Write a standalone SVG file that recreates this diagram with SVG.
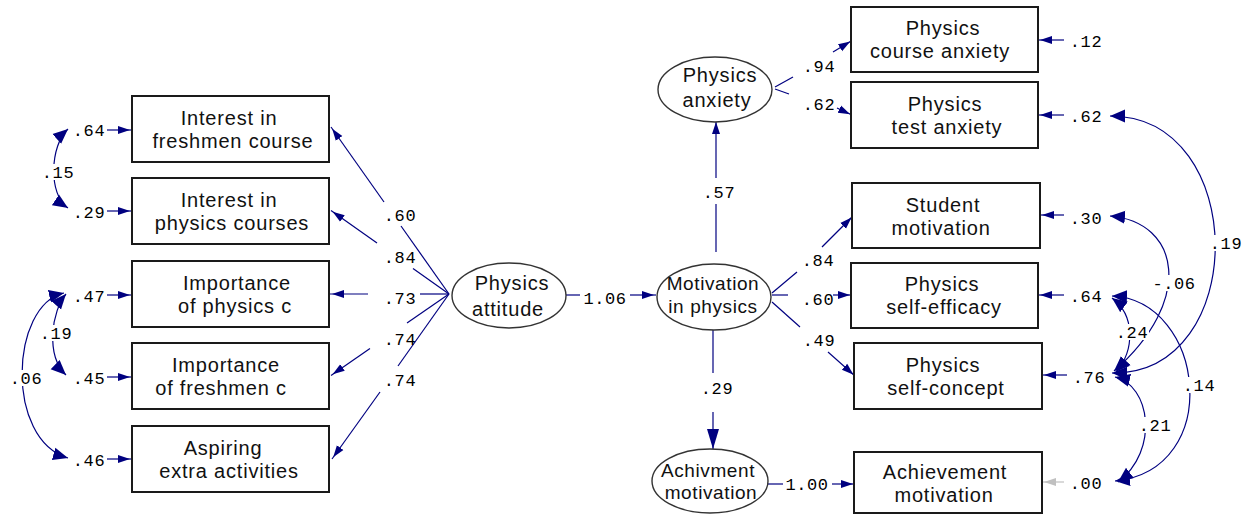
<svg xmlns="http://www.w3.org/2000/svg" width="1258" height="515" viewBox="0 0 1258 515">
<defs>
<style>
.box{fill:#fff;stroke:#1a1a1a;stroke-width:2}
.ell{fill:#fff;stroke:#333;stroke-width:1.4}
.lbl{font-family:"Liberation Sans",Arial,sans-serif;font-size:20px;letter-spacing:0.8px;fill:#111;text-anchor:middle}
.sm{font-size:19px;letter-spacing:0.6px}
.num{font-family:"Liberation Mono","Courier New",monospace;font-size:17px;letter-spacing:0.6px;fill:#000;text-anchor:middle}
.c{fill:none;stroke:#000080;stroke-width:1.2}
.a{marker-end:url(#ah)}
.cv{marker-start:url(#ch);marker-end:url(#ch)}
.bg{fill:#fff}
</style>
<marker id="ah" viewBox="0 0 16 10" refX="14" refY="5" markerWidth="16" markerHeight="10" orient="auto" markerUnits="userSpaceOnUse"><path d="M0,1 L12,5 L0,9 Z" fill="#000080"/></marker>
<marker id="ahg" viewBox="0 0 16 10" refX="14" refY="5" markerWidth="16" markerHeight="10" orient="auto" markerUnits="userSpaceOnUse"><path d="M0,1 L12,5 L0,9 Z" fill="#c0c0c0"/></marker>
<marker id="bh" viewBox="0 0 22 14" refX="20" refY="7" markerWidth="22" markerHeight="14" orient="auto" markerUnits="userSpaceOnUse"><path d="M0,1 L20,7 L0,13 Z" fill="#000080"/></marker>
<marker id="ch" viewBox="0 0 16 14" refX="15" refY="7" markerWidth="16" markerHeight="14" orient="auto-start-reverse" markerUnits="userSpaceOnUse"><path d="M0,0.5 L15,7 L0,13.5 Z" fill="#000080"/></marker>
</defs>
<rect width="1258" height="515" fill="#fff"/>

<g id="connectors">
  <!-- Physics attitude loadings -->
  <line class="c" x1="449" y1="294" x2="401" y2="226"/>
  <line class="c a" x1="384" y1="202" x2="331" y2="127"/>
  <line class="c" x1="449" y1="294" x2="413" y2="268.5"/>
  <line class="c a" x1="377" y1="243" x2="331" y2="210.5"/>
  <line class="c" x1="449" y1="294" x2="420" y2="294"/>
  <line class="c a" x1="368" y1="294" x2="330" y2="294"/>
  <line class="c" x1="449" y1="294" x2="407" y2="323"/>
  <line class="c a" x1="370" y1="348.5" x2="331" y2="375.5"/>
  <line class="c" x1="449" y1="294" x2="398" y2="366"/>
  <line class="c a" x1="380" y1="392" x2="332" y2="459"/>
  <!-- attitude -> motivation -->
  <line class="c" x1="566" y1="295" x2="580" y2="295"/>
  <line class="c a" x1="630" y1="295" x2="656" y2="295"/>
  <!-- motivation -> anxiety -->
  <line class="c" x1="716" y1="252" x2="716" y2="204"/>
  <line class="c a" x1="716" y1="178" x2="716" y2="120"/>
  <!-- motivation -> achivment -->
  <line class="c" x1="713" y1="330" x2="713" y2="373"/>
  <line class="c" x1="713" y1="412" x2="713" y2="449" marker-end="url(#bh)"/>
  <!-- achivment -> achievement box -->
  <line class="c" x1="768" y1="484" x2="783" y2="484"/>
  <line class="c a" x1="832" y1="484" x2="855" y2="484"/>
  <!-- anxiety -> boxes -->
  <line class="c" x1="775" y1="87" x2="793" y2="77"/>
  <line class="c a" x1="833" y1="52" x2="852" y2="40.5"/>
  <line class="c" x1="775" y1="89" x2="789" y2="94"/>
  <line class="c a" x1="837" y1="108" x2="852" y2="115"/>
  <!-- motivation -> boxes -->
  <line class="c" x1="772" y1="293" x2="797" y2="272"/>
  <line class="c a" x1="822" y1="247" x2="853" y2="216"/>
  <line class="c" x1="772" y1="295" x2="788" y2="295"/>
  <line class="c a" x1="833" y1="295" x2="852" y2="295"/>
  <line class="c" x1="772" y1="302" x2="800" y2="327"/>
  <line class="c a" x1="828" y1="352" x2="855" y2="376"/>
  <!-- left error arrows -->
  <line class="c a" x1="107" y1="130" x2="132" y2="130"/>
  <line class="c a" x1="107" y1="211" x2="132" y2="211"/>
  <line class="c a" x1="107" y1="295" x2="132" y2="295"/>
  <line class="c a" x1="107" y1="377" x2="132" y2="377"/>
  <line class="c a" x1="107" y1="459" x2="132" y2="459"/>
  <!-- right error arrows -->
  <line class="c a" x1="1064" y1="40" x2="1038" y2="40"/>
  <line class="c a" x1="1064" y1="115" x2="1038" y2="115"/>
  <line class="c a" x1="1064" y1="215" x2="1040" y2="215"/>
  <line class="c a" x1="1064" y1="295" x2="1038" y2="295"/>
  <line class="c a" x1="1067" y1="375" x2="1042" y2="375"/>
  <line x1="1064" y1="482" x2="1042" y2="482" stroke="#c0c0c0" stroke-width="1.2" marker-end="url(#ahg)"/>
  <!-- covariances -->
  <path class="c cv" d="M68,129 C50,145 48,195 68,208"/>
  <path class="c cv" d="M66,294 C52,310 45,355 66,375"/>
  <path class="c cv" d="M64,293 C10,305 5,440 68,458"/>
  <path class="c cv" d="M1110,116 C1250,116 1250,375 1112,373"/>
  <path class="c cv" d="M1110,216 C1180,222 1195,300 1114,371"/>
  <path class="c cv" d="M1112,298 C1135,315 1135,350 1116,372"/>
  <path class="c cv" d="M1112,296 C1205,300 1225,470 1115,481"/>
  <path class="c cv" d="M1115,377 C1150,385 1160,450 1118,482"/>
</g>

<g id="connector-labels">
  <rect class="bg" x="41" y="164" width="34" height="16"/>
  <rect class="bg" x="39" y="325" width="34" height="16"/>
  <rect class="bg" x="9" y="370" width="34" height="16"/>
  <rect class="bg" x="1209" y="235" width="34" height="16"/>
  <rect class="bg" x="1152" y="275" width="44" height="16"/>
  <rect class="bg" x="1116" y="324" width="33" height="16"/>
  <rect class="bg" x="1182" y="377" width="34" height="16"/>
  <rect class="bg" x="1139" y="417" width="32" height="16"/>
  <text class="num" x="400" y="221">.60</text>
  <text class="num" x="400" y="263">.84</text>
  <text class="num" x="400" y="304">.73</text>
  <text class="num" x="400" y="345">.74</text>
  <text class="num" x="400" y="386">.74</text>
  <text class="num" x="605" y="304">1.06</text>
  <text class="num" x="719" y="198">.57</text>
  <text class="num" x="717" y="394">.29</text>
  <text class="num" x="807" y="490">1.00</text>
  <text class="num" x="819" y="72">.94</text>
  <text class="num" x="819" y="110">.62</text>
  <text class="num" x="818" y="266">.84</text>
  <text class="num" x="818" y="305">.60</text>
  <text class="num" x="819" y="346">.49</text>
  <text class="num" x="89" y="136">.64</text>
  <text class="num" x="89" y="218">.29</text>
  <text class="num" x="89" y="302">.47</text>
  <text class="num" x="89" y="384">.45</text>
  <text class="num" x="89" y="466">.46</text>
  <text class="num" x="58" y="178">.15</text>
  <text class="num" x="56" y="339">.19</text>
  <text class="num" x="26" y="384">.06</text>
  <text class="num" x="1086" y="47">.12</text>
  <text class="num" x="1086" y="122">.62</text>
  <text class="num" x="1086" y="224">.30</text>
  <text class="num" x="1086" y="302">.64</text>
  <text class="num" x="1089" y="383">.76</text>
  <text class="num" x="1086" y="489">.00</text>
  <text class="num" x="1226" y="249">.19</text>
  <text class="num" x="1174" y="289">-.06</text>
  <text class="num" x="1132" y="338">.24</text>
  <text class="num" x="1199" y="391">.14</text>
  <text class="num" x="1155" y="431">.21</text>
</g>

<g id="interest-freshmen">
  <rect class="box" x="132" y="96" width="197" height="66"/>
  <text class="lbl" x="229" y="125">Interest in</text>
  <text class="lbl" x="233" y="148">freshmen course</text>
</g>
<g id="interest-physics">
  <rect class="box" x="132" y="178" width="197" height="66"/>
  <text class="lbl" x="229" y="207">Interest in</text>
  <text class="lbl" x="232" y="230">physics courses</text>
</g>
<g id="importance-physics">
  <rect class="box" x="132" y="261" width="197" height="66"/>
  <text class="lbl" x="237" y="290">Importance</text>
  <text class="lbl" x="235" y="313">of physics c</text>
</g>
<g id="importance-freshmen">
  <rect class="box" x="132" y="343" width="197" height="66"/>
  <text class="lbl" x="226" y="372">Importance</text>
  <text class="lbl" x="221" y="395">of freshmen c</text>
</g>
<g id="aspiring">
  <rect class="box" x="132" y="426" width="197" height="66"/>
  <text class="lbl" x="223" y="455">Aspiring</text>
  <text class="lbl" x="229" y="478">extra activities</text>
</g>

<g id="physics-attitude">
  <ellipse class="ell" cx="509" cy="295.5" rx="57" ry="32.5"/>
  <text class="lbl" x="512" y="290">Physics</text>
  <text class="lbl" x="508" y="316">attitude</text>
</g>
<g id="motivation-physics">
  <ellipse class="ell" cx="714" cy="297" rx="57" ry="33"/>
  <text class="lbl sm" x="713" y="290">Motivation</text>
  <text class="lbl sm" x="713" y="313">in physics</text>
</g>
<g id="physics-anxiety">
  <ellipse class="ell" cx="715" cy="89.5" rx="57" ry="32.5"/>
  <text class="lbl" x="720" y="82">Physics</text>
  <text class="lbl" x="717" y="107">anxiety</text>
</g>
<g id="achivment-motivation">
  <ellipse class="ell" cx="710" cy="481" rx="58" ry="32"/>
  <text class="lbl sm" x="708" y="477">Achivment</text>
  <text class="lbl sm" x="711" y="499">motivation</text>
</g>

<g id="course-anxiety">
  <rect class="box" x="851" y="7" width="187" height="65"/>
  <text class="lbl" x="943" y="35">Physics</text>
  <text class="lbl" x="940" y="58">course anxiety</text>
</g>
<g id="test-anxiety">
  <rect class="box" x="851" y="82" width="187" height="66"/>
  <text class="lbl" x="945" y="111">Physics</text>
  <text class="lbl" x="947" y="134">test anxiety</text>
</g>
<g id="student-motivation">
  <rect class="box" x="852" y="183" width="188" height="65"/>
  <text class="lbl" x="943" y="212">Student</text>
  <text class="lbl" x="941" y="235">motivation</text>
</g>
<g id="self-efficacy">
  <rect class="box" x="851" y="263" width="187" height="65"/>
  <text class="lbl" x="942" y="291">Physics</text>
  <text class="lbl" x="944" y="314">self-efficacy</text>
</g>
<g id="self-concept">
  <rect class="box" x="854" y="343" width="188" height="66"/>
  <text class="lbl" x="943" y="372">Physics</text>
  <text class="lbl" x="946" y="395">self-concept</text>
</g>
<g id="achievement-motivation">
  <rect class="box" x="854" y="452" width="188" height="61"/>
  <text class="lbl" x="945" y="479">Achievement</text>
  <text class="lbl" x="944" y="502">motivation</text>
</g>
</svg>
